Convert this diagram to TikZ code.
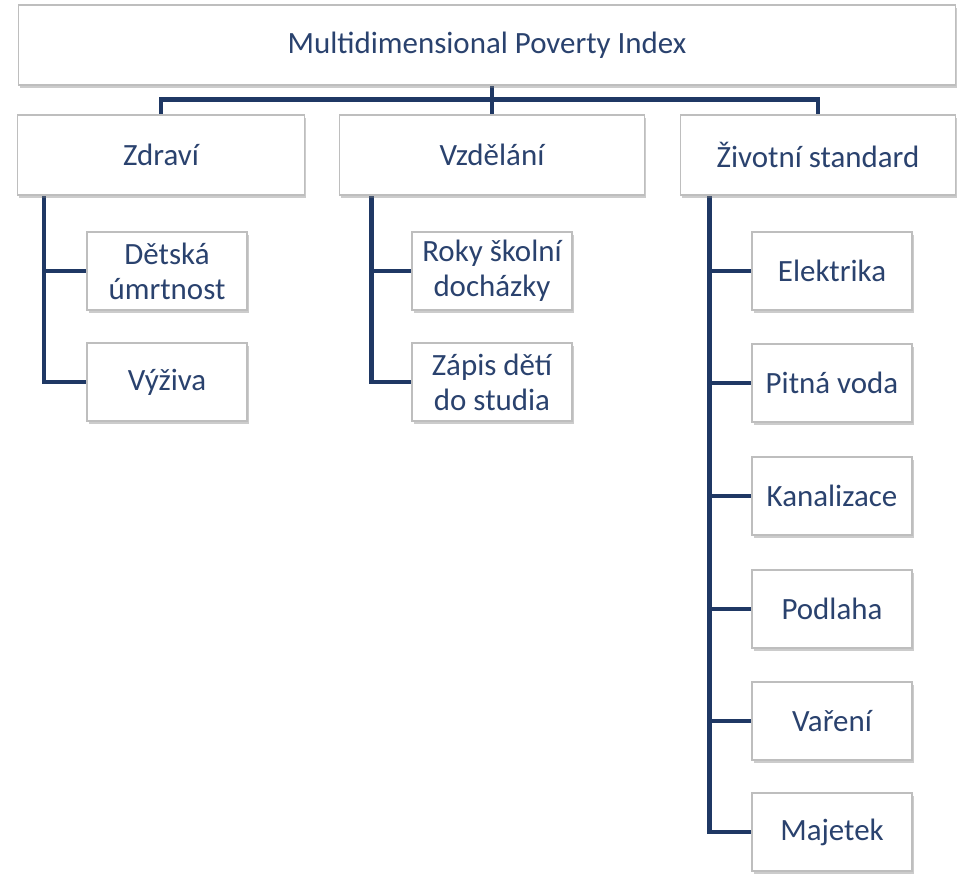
\documentclass[tikz,border=0pt]{standalone}
\usepackage{fontspec}
\setmainfont{Carlito}
\usepackage{tikz}
\usetikzlibrary{shadows, backgrounds, positioning}

\definecolor{navy}{RGB}{31,56,100}
\definecolor{inktext}{RGB}{42,66,110}
\definecolor{boxline}{RGB}{190,190,190}

\tikzset{
    box/.style={draw=boxline, line width=0.8pt, fill=white, text=inktext, align=center, inner sep=0pt,
        drop shadow={opacity=0.4, shadow xshift=0.04cm, shadow yshift=-0.07cm}},
    topbox/.style={box, minimum width=23.4cm, minimum height=2cm, font=\fontsize{22}{25}\selectfont},
    dimbox/.style={box, minimum height=2cm, font=\fontsize{22}{25}\selectfont},
    leafbox/.style={box, minimum width=4cm, minimum height=1.95cm, font=\fontsize{22}{25}\selectfont},
    wire/.style={draw=navy, line width=3.4pt}
}

\begin{document}
\begin{tikzpicture}[x=0.025cm, y=-0.025cm]

    \useasboundingbox (0,0) rectangle (957,875);

    % Index
    \node[topbox] (mpi) at (487,45) {Multidimensional Poverty Index};

    % Dimensions
    \node[dimbox, minimum width=7.175cm] (zdr) at (161,155) {Zdraví};
    \node[dimbox, minimum width=7.625cm] (vzd) at (492,155) {Vzdělání};
    \node[dimbox, minimum width=6.875cm] (zs) at (818,155) {Životní standard};

    % Indicators
    \node[leafbox] (detska) at (167,271) {Dětská\\úmrtnost};
    \node[leafbox] (vyziva) at (167,382) {Výživa};
    \node[leafbox] (roky) at (492,271) {Roky školní\\docházky};
    \node[leafbox] (zapis) at (492,382) {Zápis dětí\\do studia};

    \foreach \y/\name/\val in {271/elek/Elektrika, 383/voda/Pitná voda, 496/kanal/Kanalizace,
                               609/podl/Podlaha, 721/vare/Vaření, 832/maj/Majetek} {
        \node[leafbox] (\name) at (832,\y) {\val};
    }

    % Connectors
    \begin{scope}[on background layer]
        \draw[wire] (vzd.north |- mpi.south) -- (vzd.north);
        \draw[wire] (zdr.north) -- ++(0,-15) -| (zs.north);

        \coordinate (zdrt) at ([xshift=0.675cm]zdr.south west);
        \coordinate (vzdt) at ([xshift=0.81cm]vzd.south west);
        \coordinate (zst) at ([xshift=0.74cm]zs.south west);

        \foreach \leaf in {detska, vyziva} {
            \draw[wire] (zdrt) |- (\leaf.west);
        }
        \foreach \leaf in {roky, zapis} {
            \draw[wire] (vzdt) |- (\leaf.west);
        }
        \foreach \leaf in {elek, voda, kanal, podl, vare, maj} {
            \draw[wire] (zst) |- (\leaf.west);
        }
    \end{scope}

\end{tikzpicture}
\end{document}
